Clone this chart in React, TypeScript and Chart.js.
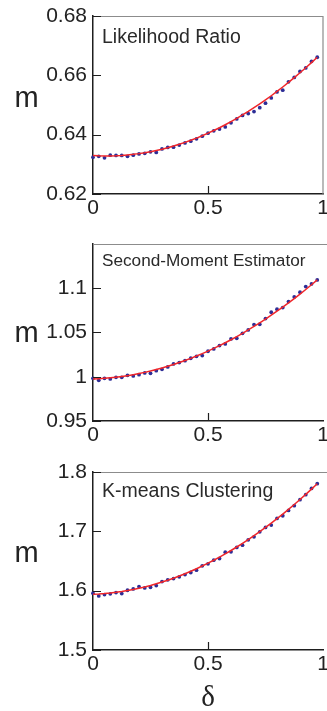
import React, { useEffect, useRef } from "react";
import { Chart, registerables } from "chart.js";

Chart.register(...registerables);

// ---------------- data ----------------
const DELTA = [
  0, 0.025, 0.05, 0.075, 0.1, 0.125, 0.15, 0.175, 0.2, 0.225,
  0.25, 0.275, 0.3, 0.325, 0.35, 0.375, 0.4, 0.425, 0.45, 0.475,
  0.5, 0.525, 0.55, 0.575, 0.6, 0.625, 0.65, 0.675, 0.7, 0.725,
  0.75, 0.775, 0.8, 0.825, 0.85, 0.875, 0.9, 0.925, 0.95, 0.975,
];

const LR_POINTS = [
  0.6324, 0.6327, 0.6322, 0.6331, 0.6330, 0.6330, 0.6327, 0.6331, 0.6335, 0.6337,
  0.6342, 0.6340, 0.6352, 0.6357, 0.6358, 0.6365, 0.6372, 0.6378, 0.6386, 0.6395,
  0.6405, 0.6413, 0.6419, 0.6426, 0.6440, 0.6453, 0.6465, 0.6471, 0.6478, 0.6491,
  0.6506, 0.6524, 0.6544, 0.6550, 0.6578, 0.6593, 0.6613, 0.6625, 0.6647, 0.6661,
];
const LR_FIT = [
  0.63300, 0.63290, 0.63285, 0.63285, 0.63290, 0.63300, 0.63316, 0.63336, 0.63361, 0.63391,
  0.63426, 0.63466, 0.63510, 0.63560, 0.63615, 0.63675, 0.63740, 0.63810, 0.63885, 0.63965,
  0.64050, 0.64140, 0.64234, 0.64334, 0.64439, 0.64549, 0.64664, 0.64783, 0.64908, 0.65038,
  0.65173, 0.65312, 0.65457, 0.65607, 0.65761, 0.65921, 0.66086, 0.66255, 0.66430, 0.66610,
];

const SM_POINTS = [
  0.9982, 0.9960, 0.9982, 0.9975, 0.9994, 0.9994, 1.0016, 1.0009, 1.0024, 1.0043,
  1.0039, 1.0069, 1.0084, 1.0111, 1.0145, 1.0160, 1.0182, 1.0209, 1.0231, 1.0239,
  1.0288, 1.0314, 1.0352, 1.0371, 1.0427, 1.0435, 1.0491, 1.0529, 1.0589, 1.0593,
  1.0657, 1.0729, 1.0763, 1.0782, 1.0849, 1.0902, 1.0955, 1.1019, 1.1049, 1.1094,
];
const SM_FIT = [
  0.99750, 0.99778, 0.99820, 0.99875, 0.99944, 1.00027, 1.00123, 1.00233, 1.00356, 1.00493,
  1.00644, 1.00808, 1.00986, 1.01177, 1.01383, 1.01602, 1.01834, 1.02080, 1.02340, 1.02613,
  1.02900, 1.03200, 1.03515, 1.03842, 1.04184, 1.04539, 1.04907, 1.05290, 1.05686, 1.06095,
  1.06518, 1.06955, 1.07405, 1.07869, 1.08347, 1.08838, 1.09343, 1.09862, 1.10394, 1.10940,
];

const KM_POINTS = [
  1.5957, 1.5912, 1.5934, 1.5946, 1.5968, 1.5951, 1.6007, 1.6030, 1.6069, 1.6047,
  1.6058, 1.6086, 1.6154, 1.6182, 1.6204, 1.6233, 1.6272, 1.6306, 1.6345, 1.6418,
  1.6452, 1.6514, 1.6542, 1.6649, 1.6655, 1.6728, 1.6767, 1.6857, 1.6908, 1.6992,
  1.7066, 1.7105, 1.7218, 1.7263, 1.7353, 1.7432, 1.7533, 1.7617, 1.7724, 1.7803,
];
const KM_FIT = [
  1.59400, 1.59445, 1.59513, 1.59604, 1.59718, 1.59854, 1.60013, 1.60195, 1.60400, 1.60627,
  1.60877, 1.61150, 1.61446, 1.61764, 1.62105, 1.62469, 1.62856, 1.63265, 1.63698, 1.64153,
  1.64630, 1.65131, 1.65654, 1.66200, 1.66769, 1.67360, 1.67975, 1.68612, 1.69271, 1.69954,
  1.70659, 1.71387, 1.72138, 1.72912, 1.73708, 1.74527, 1.75369, 1.76234, 1.77121, 1.78031,
];

const X_TICKS = [0, 0.5, 1];
const LR_TICKS = [0.62, 0.64, 0.66, 0.68];
const SM_TICKS = [0.95, 1, 1.05, 1.1];
const KM_TICKS = [1.5, 1.6, 1.7, 1.8];

const TITLES = ["Likelihood Ratio", "Second-Moment Estimator", "K-means Clustering"];
const Y_LABEL = "m";
const X_LABEL = "δ";

// ---------------- layout / style ----------------
const W = 327;
const PLOT_LEFT = 93;
const PAD_RIGHT = 2;
const SANS = '"Liberation Sans", Arial, Helvetica, sans-serif';
const SERIF = '"Liberation Serif", "DejaVu Serif", serif';
const AXIS_COLOR = "#1e1e1e";
const TEXT_COLOR = "#222222";
const FRAME_COLOR = "#8c8c8c";
const DOT_COLOR = "#2d2d96";
const FIT_COLOR = "#f0262a";

type Panel = {
  title: string;
  points: number[];
  fit: number[];
  ticks: number[];
  yMin: number;
  yMax: number;
  top: number;
  height: number;
  padTop: number;
  axisH: number;
  titleSize: number;
  titleBase: number;
  mBase: number;
  rightBorder: boolean;
  xLabel: boolean;
};

const PANELS: Panel[] = [
  {
    title: TITLES[0], points: LR_POINTS, fit: LR_FIT, ticks: LR_TICKS,
    yMin: 0.62, yMax: 0.68, top: 0, height: 225, padTop: 16, axisH: 31,
    titleSize: 19.5, titleBase: 43, mBase: 107, rightBorder: true, xLabel: false,
  },
  {
    title: TITLES[1], points: SM_POINTS, fit: SM_FIT, ticks: SM_TICKS,
    yMin: 0.95, yMax: 1.15, top: 225, height: 225, padTop: 19, axisH: 29,
    titleSize: 17.2, titleBase: 41, mBase: 117, rightBorder: false, xLabel: false,
  },
  {
    title: TITLES[2], points: KM_POINTS, fit: KM_FIT, ticks: KM_TICKS,
    yMin: 1.5, yMax: 1.8, top: 450, height: 261, padTop: 22, axisH: 61,
    titleSize: 19.5, titleBase: 47, mBase: 112, rightBorder: false, xLabel: true,
  },
];

const decorPlugin = {
  id: "decor",
  afterDraw(chart: any, _args: any, opts: any) {
    const { ctx, chartArea: a, scales } = chart;
    ctx.save();
    // gray frame (top / right)
    ctx.strokeStyle = FRAME_COLOR;
    ctx.lineWidth = 1.2;
    ctx.beginPath();
    ctx.moveTo(a.left, a.top + 0.5);
    ctx.lineTo(opts.rightBorder ? a.right : chart.width, a.top + 0.5);
    if (opts.rightBorder) ctx.lineTo(a.right, a.bottom);
    ctx.stroke();
    // inward tick marks
    ctx.strokeStyle = AXIS_COLOR;
    ctx.lineWidth = 1.2;
    ctx.beginPath();
    scales.y.ticks.forEach((t: any) => {
      const y = Math.round(scales.y.getPixelForValue(t.value)) + 0.5;
      ctx.moveTo(a.left, y);
      ctx.lineTo(a.left + 8, y);
    });
    scales.x.ticks.forEach((t: any) => {
      if (t.value <= 0 || t.value >= 1) return;
      const x = Math.round(scales.x.getPixelForValue(t.value)) + 0.5;
      ctx.moveTo(x, a.bottom);
      ctx.lineTo(x, a.bottom - 8);
    });
    ctx.stroke();
    // panel title
    ctx.fillStyle = "#2a2a2a";
    ctx.textAlign = "left";
    ctx.textBaseline = "alphabetic";
    ctx.font = `${opts.titleSize}px ${SANS}`;
    ctx.fillText(opts.title, a.left + 9, opts.titleBase);
    // y label
    ctx.fillStyle = TEXT_COLOR;
    ctx.textAlign = "center";
    ctx.font = `29px ${SANS}`;
    ctx.fillText(Y_LABEL, 26.5, opts.mBase);
    // x label
    if (opts.xLabel) {
      ctx.font = `29px ${SERIF}`;
      ctx.fillText(X_LABEL, (a.left + a.right) / 2, chart.height - 5);
    }
    ctx.restore();
  },
};

function PanelChart({ p }: { p: Panel }) {
  const ref = useRef<HTMLCanvasElement | null>(null);
  useEffect(() => {
    if (!ref.current) return;
    const tickFont = { family: SANS, size: 21 };
    const chart = new Chart(ref.current, {
      type: "scatter",
      data: {
        datasets: [
          {
            data: p.fit.map((y, i) => ({ x: DELTA[i], y })),
            showLine: true,
            borderColor: FIT_COLOR,
            borderWidth: 1.5,
            pointRadius: 0,
            tension: 0,
            order: 0,
            clip: false,
          } as any,
          {
            data: p.points.map((y, i) => ({ x: DELTA[i], y })),
            pointRadius: 1.9,
            backgroundColor: DOT_COLOR,
            borderWidth: 0,
            order: 1,
            clip: false,
          } as any,
        ],
      },
      options: {
        animation: false,
        responsive: false,
        devicePixelRatio: 1,
        layout: { padding: { top: p.padTop, right: PAD_RIGHT, left: 0, bottom: 0 } },
        plugins: {
          legend: { display: false },
          tooltip: { enabled: false },
          decor: {
            title: p.title,
            titleSize: p.titleSize,
            titleBase: p.titleBase,
            mBase: p.mBase,
            rightBorder: p.rightBorder,
            xLabel: p.xLabel,
          },
        } as any,
        scales: {
          x: {
            type: "linear",
            min: 0,
            max: 1,
            afterBuildTicks: (s: any) => {
              s.ticks = X_TICKS.map((v) => ({ value: v }));
            },
            afterFit: (s: any) => {
              s.height = p.axisH;
              s.paddingLeft = 0;
              s.paddingRight = 0;
            },
            ticks: {
              callback: (v: any) => String(v),
              font: tickFont,
              color: TEXT_COLOR,
              padding: 2,
              maxRotation: 0,
              autoSkip: false,
            },
            grid: { display: false, drawTicks: false },
            border: { display: true, color: AXIS_COLOR, width: 1.5 },
          },
          y: {
            type: "linear",
            min: p.yMin,
            max: p.yMax,
            afterBuildTicks: (s: any) => {
              s.ticks = p.ticks.map((v) => ({ value: v }));
            },
            afterFit: (s: any) => {
              s.width = PLOT_LEFT;
              s.paddingTop = 0;
              s.paddingBottom = 0;
            },
            ticks: {
              callback: (v: any) => String(v),
              font: tickFont,
              color: TEXT_COLOR,
              padding: 6,
              autoSkip: false,
            },
            grid: { display: false, drawTicks: false },
            border: { display: true, color: AXIS_COLOR, width: 1.5 },
          },
        },
      } as any,
      plugins: [decorPlugin],
    });
    return () => chart.destroy();
  }, [p]);
  return (
    <canvas
      ref={ref}
      width={W}
      height={p.height}
      style={{ position: "absolute", left: 0, top: p.top, width: W, height: p.height }}
    />
  );
}

export default function App() {
  return (
    <div
      style={{
        position: "absolute",
        left: 0,
        top: 0,
        width: W,
        height: 711,
        background: "#ffffff",
        overflow: "hidden",
      }}
    >
      {PANELS.map((p, i) => (
        <PanelChart key={i} p={p} />
      ))}
    </div>
  );
}
